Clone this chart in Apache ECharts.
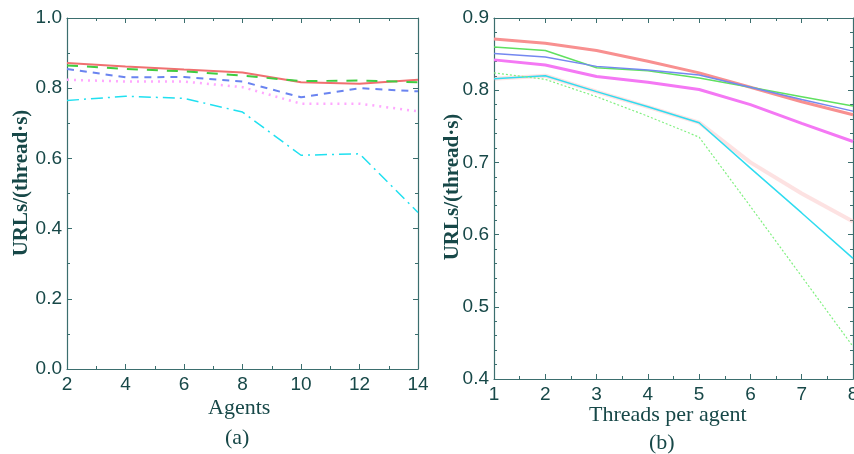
<!DOCTYPE html>
<html>
<head>
<meta charset="utf-8">
<script src="https://cdn.jsdelivr.net/npm/echarts@6/dist/echarts.min.js"></script>
<style>html,body{margin:0;padding:0;background:#fff}#c{width:854px;height:454px}</style>
</head>
<body>
<div id="c"></div>
<script>
// Panel (a): throughput vs number of agents
const agents = [2, 4, 6, 8, 10, 12, 14];
const aRed     = [0.872, 0.862, 0.853, 0.845, 0.817, 0.813, 0.824];
const aGreen   = [0.865, 0.855, 0.848, 0.836, 0.820, 0.822, 0.817];
const aBlue    = [0.855, 0.831, 0.832, 0.819, 0.774, 0.800, 0.791];
const aMagenta = [0.824, 0.819, 0.819, 0.803, 0.756, 0.756, 0.734];
const aCyan    = [0.765, 0.777, 0.771, 0.732, 0.609, 0.613, 0.446];

// Panel (b): throughput vs threads per agent
const threads = [1, 2, 3, 4, 5, 6, 7, 8];
const bRed      = [0.871, 0.865, 0.855, 0.840, 0.824, 0.804, 0.784, 0.766];
const bGreen    = [0.860, 0.855, 0.831, 0.827, 0.817, 0.804, 0.791, 0.778];
const bBlue     = [0.851, 0.846, 0.833, 0.828, 0.821, 0.804, 0.787, 0.771];
const bMagenta  = [0.842, 0.835, 0.819, 0.811, 0.801, 0.780, 0.754, 0.729];
const bFaint    = [0.816, 0.820, 0.798, 0.777, 0.755, 0.700, 0.657, 0.618];
const bCyan     = [0.816, 0.820, 0.798, 0.777, 0.755, 0.692, 0.630, 0.567];
const bGreenDot = [0.824, 0.815, 0.791, 0.764, 0.735, 0.639, 0.542, 0.445];

const yTitle = 'URLs/(thread\u00b7s)';
const xTitleA = 'Agents';
const xTitleB = 'Threads per agent';
const capA = '(a)';
const capB = '(b)';

const pair = (xs, ys) => xs.map((x, i) => [x, ys[i]]);
const axisCol = '#3b6e6e';
const labelCol = '#174848';

function xAx(grid, min, max, interval, minorSplit, pos, showLabel) {
  return {
    type: 'value', gridIndex: grid, min, max, interval, position: pos,
    axisLine: {show: true, onZero: false, lineStyle: {color: axisCol, width: 1.2}},
    axisTick: {show: true, inside: true, length: 5, lineStyle: {color: axisCol}},
    minorTick: {show: true, splitNumber: minorSplit, length: 3, lineStyle: {color: axisCol}},
    splitLine: {show: false},
    axisLabel: {show: showLabel, color: labelCol, fontFamily: 'Liberation Sans', fontSize: 19, margin: 6,
      hideOverlap: false}
  };
}
function yAx(grid, min, max, interval, minorSplit, pos, showLabel) {
  return {
    type: 'value', gridIndex: grid, min, max, interval, position: pos,
    axisLine: {show: true, onZero: false, lineStyle: {color: axisCol, width: 1.2}},
    axisTick: {show: true, inside: true, length: 5, lineStyle: {color: axisCol}},
    minorTick: {show: true, splitNumber: minorSplit, length: 3, lineStyle: {color: axisCol}},
    splitLine: {show: false},
    axisLabel: {show: showLabel, color: labelCol, fontFamily: 'Liberation Sans', fontSize: 19, margin: 5,
      formatter: v => v.toFixed(1)}
  };
}

function ser(x, y, data, color, width, type, opacity, z) {
  return {
    type: 'line', xAxisIndex: x, yAxisIndex: y, data, symbol: 'none', silent: true,
    lineStyle: {color, width, type, opacity: opacity == null ? 1 : opacity}, z: z || 2
  };
}

const chart = echarts.init(document.getElementById('c'), null, {renderer: 'canvas'});
chart.setOption({
  backgroundColor: '#ffffff',
  animation: false,
  grid: [
    {left: 67, right: 436, top: 18, bottom: 85, containLabel: false, outerBoundsMode: 'none'},
    {left: 494, right: 1, top: 18, bottom: 75, containLabel: false, outerBoundsMode: 'none'}
  ],
  xAxis: [
    xAx(0, 2, 14, 2, 2, 'bottom', true),
    xAx(0, 2, 14, 2, 2, 'top', false),
    xAx(1, 1, 8, 1, 2, 'bottom', true),
    xAx(1, 1, 8, 1, 2, 'top', false)
  ],
  yAxis: [
    yAx(0, 0, 1, 0.2, 2, 'left', true),
    yAx(0, 0, 1, 0.2, 2, 'right', false),
    yAx(1, 0.4, 0.9, 0.1, 5, 'left', true),
    yAx(1, 0.4, 0.9, 0.1, 5, 'right', false)
  ],
  graphic: [
    {type: 'text', left: 208, top: 397, style: {text: xTitleA, font: '22px "Liberation Serif"', fill: labelCol}},
    {type: 'text', left: 225, top: 427, style: {text: capA, font: '22px "Liberation Serif"', fill: labelCol}},
    {type: 'text', left: 589, top: 404, style: {text: xTitleB, font: '22px "Liberation Serif"', fill: labelCol}},
    {type: 'text', left: 649, top: 432, style: {text: capB, font: '22px "Liberation Serif"', fill: labelCol}},
    {type: 'text', x: 22, y: 183, rotation: Math.PI / 2,
      style: {text: yTitle, font: 'bold 21px "Liberation Serif"', fill: labelCol, align: 'center', verticalAlign: 'middle'}},
    {type: 'text', x: 453, y: 187, rotation: Math.PI / 2,
      style: {text: yTitle, font: 'bold 21px "Liberation Serif"', fill: labelCol, align: 'center', verticalAlign: 'middle'}}
  ],
  series: [
    ser(0, 0, pair(agents, aRed), '#f07070', 2, 'solid'),
    ser(0, 0, pair(agents, aGreen), '#40cc40', 2, [11, 9]),
    ser(0, 0, pair(agents, aBlue), '#6a84f0', 2, [7, 6]),
    ser(0, 0, pair(agents, aMagenta), '#ffa8ff', 2.5, [2, 5]),
    ser(0, 0, pair(agents, aCyan), '#20e0f0', 1.5, [12, 5, 2, 5]),

    ser(2, 2, pair(threads, bFaint), '#f8a0a0', 4, 'solid', 0.3, 1),
    ser(2, 2, pair(threads, bRed), '#f89090', 3, 'solid'),
    ser(2, 2, pair(threads, bGreen), '#60e060', 1.5, 'solid'),
    ser(2, 2, pair(threads, bBlue), '#7488f0', 1.5, 'solid'),
    ser(2, 2, pair(threads, bMagenta), '#f478f4', 3, 'solid'),
    ser(2, 2, pair(threads, bCyan), '#30dcf0', 1.5, 'solid'),
    ser(2, 2, pair(threads, bGreenDot), '#80f080', 1.2, [2, 2])
  ]
});
</script>
</body>
</html>
